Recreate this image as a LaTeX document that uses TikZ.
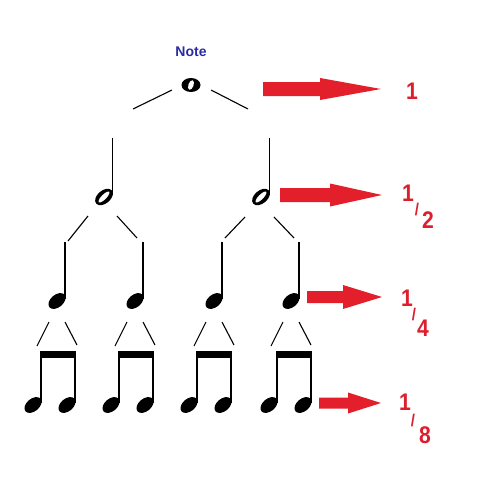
\documentclass[tikz,border=0pt]{standalone}
\usepackage{fontspec}
\setmainfont{Liberation Sans}
\newfontfamily\numfont[FakeStretch=0.88]{Liberation Sans}
\definecolor{arrred}{HTML}{E21F2B}
\definecolor{numred}{HTML}{DD1F2D}
\definecolor{noteblue}{HTML}{2B2BA6}
\newcommand\blockarrow[6]{\fill[arrred] (#1,#3-#4) -- (#6,#3-#4) -- (#6,#3-#5) -- (#2,#3) -- (#6,#3+#5) -- (#6,#3+#4) -- (#1,#3+#4) -- cycle;}
\begin{document}
\begin{tikzpicture}[x=1pt,y=-1pt,
  link/.style={line width=1.1pt},
  stemline/.style={line width=1.4pt},
  digit/.style={text=numred, font=\numfont\bfseries\fontsize{24}{24}\selectfont, inner sep=0pt},
  slashmark/.style={text=numred, font=\numfont\bfseries\fontsize{17}{17}\selectfont, inner sep=0pt},
  quarter/.pic={\fill[rotate=40] (0,0) ellipse [x radius=9.8, y radius=6.3];
    \draw[stemline] (8,-2) -- (8,-59);},
  half/.pic={\fill[rotate=40] (0,0) ellipse [x radius=10.2, y radius=6.5];
    \fill[white, rotate=45] (0,0) ellipse [x radius=7.4, y radius=2.4];
    \draw[stemline] (8.5,-2) -- (8.5,-59);},
  eighths/.pic={\fill[rotate=40] (0,0) ellipse [x radius=9.8, y radius=6.3];
    \fill[rotate around={40:(34,0)}] (34,0) ellipse [x radius=9.8, y radius=6.3];
    \draw[stemline] (8,-2) -- (8,-54) (42,-2) -- (42,-54);
    \fill (7.3,-54) rectangle (42.7,-47);},
]
\fill[white] (0,0) rectangle (480,480);
\path[use as bounding box] (0,0) rectangle (480,480);

% title
\node[text=noteblue, font=\bfseries\fontsize{14}{14}\selectfont, inner sep=0pt] (title) at (191,52) {Note};

% whole note
\fill (191,85) ellipse [x radius=9.5, y radius=7];
\fill[white, rotate around={-20:(191,85)}] (191,85) ellipse [x radius=2.6, y radius=5];

% half notes
\pic at (104,197) {half};
\pic at (261,197) {half};

% quarter notes
\foreach \c in {57,135,214,291} {
  \pic at (\c,301) {quarter};
  \draw[link] (\c-20,346) -- (\c-8,322);
  \draw[link] (\c+8,322) -- (\c+20,345);
}

% eighth pairs
\foreach \c in {33,111,189,269} {
  \pic at (\c,405) {eighths};
}

% connectors from whole and half notes
\draw[link] (133,109) -- (172,90);
\draw[link] (211,90) -- (248,109);
\draw[link] (68,241) -- (88,216);
\draw[link] (117,216) -- (137,238);
\draw[link] (225,238) -- (245,217);
\draw[link] (274,217) -- (294,238);

% red arrows
\blockarrow{263}{381}{89}{7}{11}{320}
\blockarrow{280}{382}{195}{7}{11.5}{330}
\blockarrow{307}{382}{297}{6}{12}{343}
\blockarrow{319}{381}{403}{5.5}{10.5}{348}

% labels
\node[digit] (l1) at (412,91) {1};
\node[digit] (h1) at (408,193) {1};
\node[slashmark] (hs) at (417,210) {/};
\node[digit] (h2) at (428,220) {2};
\node[digit] (q1) at (407,298) {1};
\node[slashmark] (qs) at (414,315) {/};
\node[digit] (q4) at (423,328) {4};
\node[digit] (e1) at (405,402) {1};
\node[slashmark] (es) at (413,421) {/};
\node[digit] (e8) at (425,435) {8};
\end{tikzpicture}
\end{document}
